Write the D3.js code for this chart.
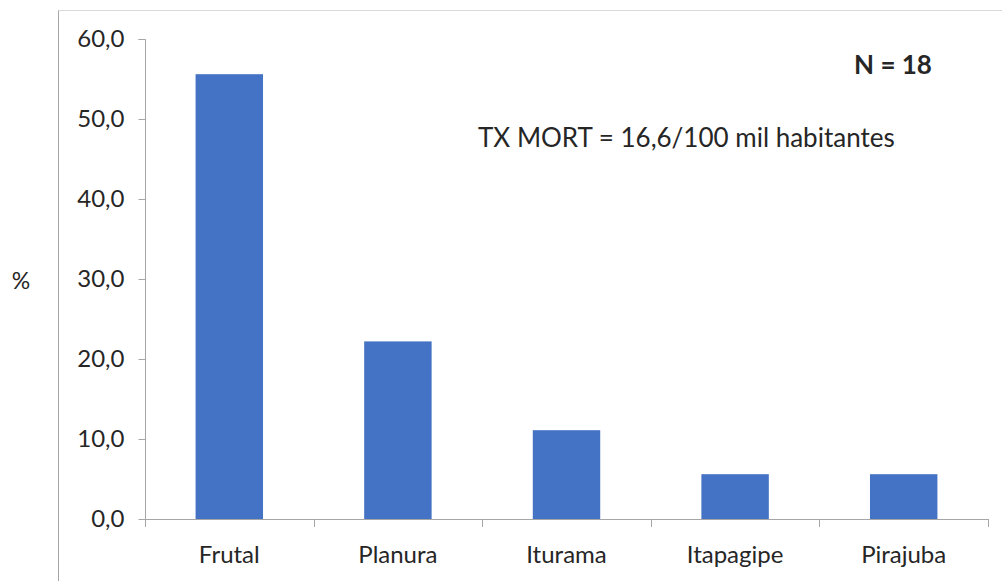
<!DOCTYPE html>
<html lang="en">
<head>
  <meta charset="UTF-8">
  <title>mortalidade</title>
  <script src="https://d3js.org/d3.v7.min.js"></script>
  <style>
    body { margin: 0; background: #fff; }
    text { font-family: Lato, "Open Sans", sans-serif; fill: #262626; }
  </style>
</head>
<body>
  <div id="chart"></div>
  <script>
    var categories = ["Frutal", "Planura", "Iturama", "Itapagipe", "Pirajuba"];
    var values = [55.6, 22.2, 11.1, 5.6, 5.6];
    var yTicks = [0, 10, 20, 30, 40, 50, 60];

    var width = 1002, height = 581;
    var mLeft = 145, mRight = 988, mTop = 39, mBottom = 519;

    var svg = d3.select("#chart").append("svg")
      .attr("width", width)
      .attr("height", height);

    // outer frame (only top and left visible)
    svg.append("line").attr("x1", 58.5).attr("x2", width).attr("y1", 10.5).attr("y2", 10.5)
      .attr("stroke", "#d9d9d9");
    svg.append("line").attr("x1", 58.5).attr("x2", 58.5).attr("y1", 10.5).attr("y2", height)
      .attr("stroke", "#a6a6a6");

    var x = d3.scaleBand().domain(categories).range([mLeft, mRight]).paddingInner(0.6).paddingOuter(0.3);
    var y = d3.scaleLinear().domain([0, 60]).range([mBottom, mTop]);

    svg.selectAll("rect.bar")
      .data(values)
      .enter().append("rect")
      .attr("class", "bar")
      .attr("x", function (d, i) { return x(categories[i]); })
      .attr("width", x.bandwidth())
      .attr("y", function (d) { return y(d); })
      .attr("height", function (d) { return mBottom - y(d); })
      .attr("fill", "#4472c4");

    // y axis
    var yAxis = svg.append("g").attr("transform", "translate(" + (mLeft + 0.5) + ",0)")
      .call(d3.axisLeft(y).tickValues(yTicks).tickSize(7).tickPadding(14)
        .tickFormat(function (d) { return d3.format(".1f")(d).replace(".", ","); }));
    yAxis.selectAll("path, line").attr("stroke", "#a6a6a6");
    yAxis.select(".domain").attr("d", "M-7," + mTop + ".5H0V" + mBottom + ".5");
    yAxis.selectAll("text").attr("font-size", 24).attr("font-family", "Lato, sans-serif").attr("fill", "#262626");

    // x axis
    var bounds = d3.range(categories.length + 1).map(function (i) { return mLeft + i * (mRight - mLeft) / categories.length; });
    var xg = svg.append("g");
    xg.append("line").attr("x1", mLeft).attr("x2", mRight).attr("y1", mBottom + 0.5).attr("y2", mBottom + 0.5)
      .attr("stroke", "#a6a6a6");
    xg.selectAll("line.tick").data(bounds).enter().append("line")
      .attr("class", "tick")
      .attr("x1", function (d) { return Math.round(d) + 0.5; })
      .attr("x2", function (d) { return Math.round(d) + 0.5; })
      .attr("y1", mBottom).attr("y2", mBottom + 8)
      .attr("stroke", "#a6a6a6");
    xg.selectAll("text").data(categories).enter().append("text")
      .attr("x", function (d) { return x(d) + x.bandwidth() / 2; })
      .attr("y", 563)
      .attr("text-anchor", "middle")
      .attr("font-size", 24)
      .text(function (d) { return d; });

    svg.append("text").attr("x", 21).attr("y", 289).attr("text-anchor", "middle")
      .attr("font-size", 23).text("%");

    svg.append("text").attr("x", 893).attr("y", 74).attr("text-anchor", "middle")
      .attr("font-size", 26).attr("font-weight", "bold").text("N = 18");

    svg.append("text").attr("x", 478).attr("y", 147)
      .attr("font-size", 26).text("TX MORT = 16,6/100 mil habitantes");
  </script>
</body>
</html>
